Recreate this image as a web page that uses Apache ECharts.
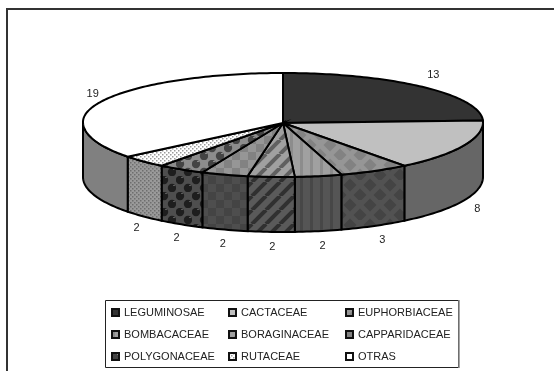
<!DOCTYPE html>
<html>
<head>
<meta charset="utf-8">
<style>
  html, body { margin: 0; padding: 0; background: #fff; }
  #chart { width: 554px; height: 371px; }
</style>
<script src="https://cdn.jsdelivr.net/npm/echarts@6/dist/echarts.min.js"></script>
</head>
<body>
<div id="chart"></div>
<script>
const categories = ['LEGUMINOSAE', 'CACTACEAE', 'EUPHORBIACEAE', 'BOMBACACEAE', 'BORAGINACEAE', 'CAPPARIDACEAE', 'POLYGONACEAE', 'RUTACEAE', 'OTRAS'];
const values = [13, 8, 3, 2, 2, 2, 2, 2, 19];
const legendColumns = [[0, 3, 6], [1, 4, 7], [2, 5, 8]];

// pie geometry
const cx = 283, cy = 122, apexY = 123;
const rx = 200, ryBack = 49, ryFront = 55, depth = 55;
const labelCx = 285, labelRx = 213, labelRyBack = 65, labelRyFront = 67, labelDrop = 58;

// tile painters for the slice fills
function tile(size, bg, paint) {
  const c = document.createElement('canvas');
  c.width = c.height = size;
  const g = c.getContext('2d');
  g.fillStyle = bg;
  g.fillRect(0, 0, size, size);
  paint(g, size);
  return { image: c, repeat: 'repeat' };
}
function diamonds(bg, fg) {
  return tile(20, bg, function (g) {
    g.fillStyle = fg;
    [[10, 5], [0, 15], [20, 15], [10, 25], [10, -5]].forEach(function (p) {
      g.beginPath();
      g.moveTo(p[0], p[1] - 6.5); g.lineTo(p[0] + 6.5, p[1]); g.lineTo(p[0], p[1] + 6.5); g.lineTo(p[0] - 6.5, p[1]);
      g.closePath();
      g.fill();
    });
  });
}
function vstripes(bg, fg) {
  return tile(10, bg, function (g) {
    g.fillStyle = fg;
    g.fillRect(0, 0, 3, 10);
  });
}
function dstripes(bg, fg) {
  return tile(14, bg, function (g) {
    g.strokeStyle = fg;
    g.lineWidth = 4;
    [-14, 0, 14].forEach(function (o) {
      g.beginPath();
      g.moveTo(o, 14); g.lineTo(o + 14, 0);
      g.stroke();
    });
  });
}
function checker(bg, fg) {
  return tile(16, bg, function (g) {
    g.fillStyle = fg;
    g.fillRect(0, 0, 8, 8);
    g.fillRect(8, 8, 8, 8);
  });
}
function balls(bg, fg, hi) {
  return tile(16, bg, function (g) {
    [[4, 4], [12, 12]].forEach(function (p) {
      g.fillStyle = fg;
      g.beginPath(); g.arc(p[0], p[1], 4.2, 0, Math.PI * 2); g.fill();
      g.fillStyle = hi;
      g.fillRect(p[0] + 1, p[1] - 3, 2, 1);
    });
  });
}
function dots(bg, fg) {
  return tile(4, bg, function (g) {
    g.fillStyle = fg;
    g.fillRect(0, 0, 1.5, 1.5);
    g.fillRect(2, 2, 1.5, 1.5);
  });
}

const topFills = [
  '#333333', '#c0c0c0', diamonds('#969696', '#828282'), vstripes('#a0a0a0', '#8c8c8c'),
  dstripes('#a0a0a0', '#606060'), checker('#969696', '#828282'),
  balls('#8c8c8c', '#444444', '#8c8c8c'), dots('#ffffff', '#9a9a9a'), '#ffffff'
];
const wallFills = [
  '#1e1e1e', '#666666', diamonds('#525252', '#444444'), vstripes('#555555', '#474747'),
  dstripes('#5a5a5a', '#303030'), checker('#4e4e4e', '#444444'),
  balls('#4e4e4e', '#1e1e1e', '#5a5a5a'), dots('#9a9a9a', '#6e6e6e'), '#808080'
];

const total = values.reduce(function (a, b) { return a + b; }, 0);
const starts = [];
values.reduce(function (sum, v, i) { starts[i] = sum; return sum + v; }, 0);

function rim(t) {
  const ry = Math.cos(t) > 0 ? ryBack : ryFront;
  return [cx + rx * Math.sin(t), cy - ry * Math.cos(t)];
}
function arcPoints(a, b) {
  const n = Math.max(2, Math.ceil((b - a) / 0.02));
  const pts = [];
  for (let i = 0; i <= n; i++) {
    pts.push(rim(a + (b - a) * i / n));
  }
  return pts;
}

function sliceItem(i) {
  return function (params, api) {
    const a = starts[i] / total * Math.PI * 2;
    const b = (starts[i] + api.value(0)) / total * Math.PI * 2;
    const children = [];
    const wa = Math.max(a, Math.PI / 2), wb = Math.min(b, Math.PI * 1.5);
    if (wb > wa) {
      const edge = arcPoints(wa, wb);
      const lower = edge.map(function (p) { return [p[0], p[1] + depth]; }).reverse();
      children.push({
        type: 'polygon',
        z2: 1,
        shape: { points: edge.concat(lower) },
        style: { fill: wallFills[i], stroke: '#000', lineWidth: 2 }
      });
    }
    children.push({
      type: 'polygon',
      z2: 2,
      shape: { points: [[cx, apexY]].concat(arcPoints(a, b)) },
      style: { fill: topFills[i], stroke: '#000', lineWidth: 2 }
    });
    const mid = (a + b) / 2;
    const front = Math.cos(mid) < 0;
    children.push({
      type: 'text',
      z2: 3,
      style: {
        text: String(api.value(0)),
        x: labelCx + labelRx * Math.sin(mid),
        y: cy - (front ? labelRyFront : labelRyBack) * Math.cos(mid) + (front ? labelDrop : 0),
        align: 'center',
        verticalAlign: 'middle',
        fill: '#222',
        font: '11px "Liberation Sans", Arial, sans-serif'
      }
    });
    return { type: 'group', children: children };
  };
}

const chart = echarts.init(document.getElementById('chart'), null, { renderer: 'canvas' });
chart.setOption({
  backgroundColor: '#fff',
  animation: false,
  graphic: [
    { type: 'polyline', silent: true, shape: { points: [[7, 371], [7, 9], [554, 9]] }, style: { fill: null, stroke: '#333', lineWidth: 2 } },
    { type: 'rect', silent: true, shape: { x: 105.5, y: 300.5, width: 353, height: 67 }, style: { fill: '#fff', stroke: '#222', lineWidth: 1 } },
    { type: 'line', silent: true, shape: { x1: 459, y1: 300, x2: 459, y2: 368 }, style: { stroke: '#888', lineWidth: 1.5 } }
  ],
  legend: legendColumns.map(function (col, c) {
    return {
      orient: 'vertical',
      left: [111, 228, 345][c],
      top: 306,
      padding: 0,
      itemWidth: 7,
      itemHeight: 7,
      itemGap: 9,
      selectedMode: false,
      textStyle: { fontFamily: '"Liberation Sans", Arial, sans-serif', fontSize: 11, color: '#222', lineHeight: 13 },
      data: col.map(function (i) {
        return {
          name: categories[i],
          icon: 'rect',
          itemStyle: { color: topFills[i], borderColor: '#111', borderWidth: 2 }
        };
      })
    };
  }),
  series: categories.map(function (name, i) {
    return {
      type: 'custom',
      name: name,
      coordinateSystem: 'none',
      silent: true,
      clip: false,
      itemStyle: { color: '#333' },
      data: [[values[i]]],
      renderItem: sliceItem(i)
    };
  })
});
</script>
</body>
</html>
